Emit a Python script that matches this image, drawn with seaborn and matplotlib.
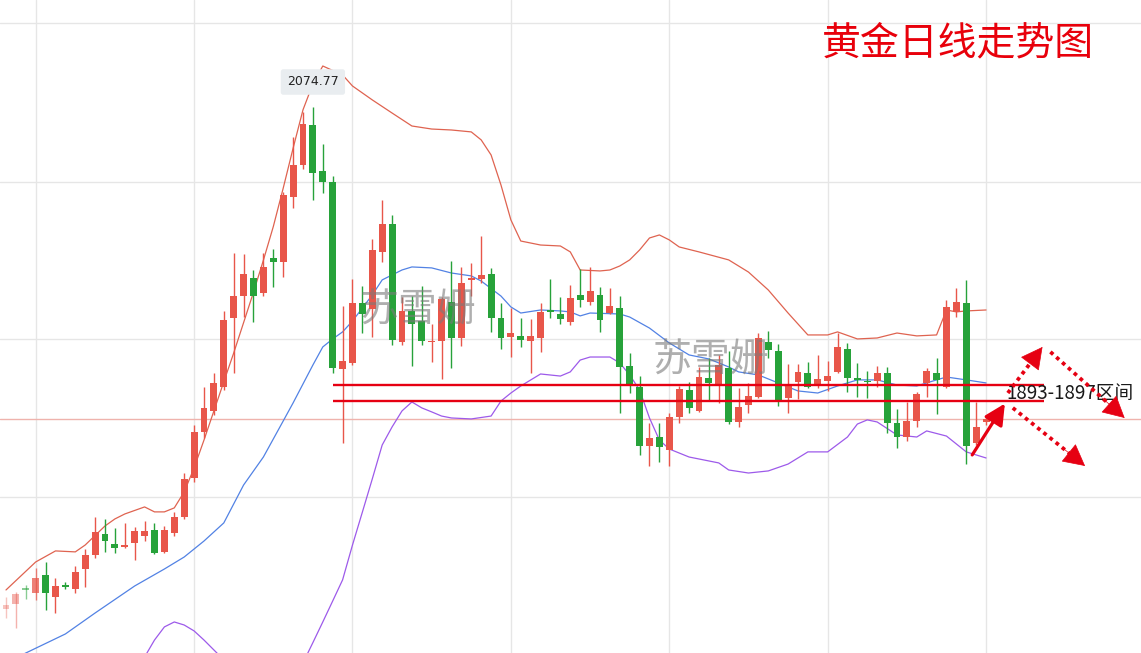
import numpy as np
import pandas as pd
import matplotlib
matplotlib.use("Agg")
import matplotlib.pyplot as plt
import seaborn as sns

# daily gold candles, red = up, green = down
opens = [1761.0, 1764.2, 1774.2, 1771.0, 1782.3, 1768.5, 1775.4, 1773.5, 1786.0, 1794.8,
         1807.9, 1801.7, 1799.8, 1802.3, 1806.7, 1810.4, 1796.7, 1808.5, 1818.5, 1842.9,
         1871.7, 1884.8, 1899.8, 1942.9, 1956.7, 1967.9, 1958.5, 1980.4, 1977.9, 2018.5,
         2038.5, 2063.5, 2034.8, 2027.9, 1911.0, 1914.8, 1952.3, 1948.5, 1984.2, 2001.7,
         1927.9, 1947.3, 1941.0, 1927.9, 1928.5, 1952.9, 1930.4, 1966.7, 1967.3, 1970.4,
         1942.9, 1931.0, 1931.7, 1928.5, 1930.4, 1947.3, 1945.4, 1940.4, 1957.3, 1952.9,
         1957.3, 1946.0, 1949.2, 1912.9, 1899.8, 1862.9, 1868.5, 1860.4, 1881.0, 1897.9,
         1884.8, 1905.4, 1901.0, 1911.7, 1877.9, 1888.5, 1893.5, 1927.9, 1922.3, 1892.9,
         1902.9, 1908.5, 1901.7, 1903.5, 1909.2, 1923.5, 1904.8, 1903.5, 1903.5, 1908.5,
         1877.3, 1868.5, 1878.5, 1902.3, 1908.5, 1899.8, 1946.7, 1952.3, 1864.8, 1877.9]
highs = [1768.5, 1771.6, 1776.0, 1786.7, 1790.4, 1780.4, 1777.9, 1787.9, 1798.5, 1818.5,
         1817.3, 1811.7, 1814.8, 1812.3, 1816.0, 1814.8, 1812.9, 1821.7, 1846.0, 1876.0,
         1899.8, 1908.5, 1947.3, 1983.5, 1982.9, 1972.9, 1983.5, 1986.0, 2021.7, 2056.0,
         2071.7, 2074.77, 2051.7, 2031.7, 1950.4, 1967.3, 1962.9, 1992.3, 2016.7, 2007.3,
         1956.0, 1956.7, 1962.9, 1939.2, 1956.0, 1978.5, 1974.8, 1977.3, 1994.2, 1974.2,
         1952.3, 1949.2, 1942.9, 1942.3, 1952.3, 1967.3, 1956.0, 1963.5, 1973.5, 1974.8,
         1962.3, 1961.7, 1956.7, 1921.0, 1906.7, 1877.3, 1877.3, 1883.5, 1900.4, 1902.9,
         1912.3, 1917.9, 1919.8, 1922.3, 1899.2, 1902.3, 1933.5, 1934.8, 1926.7, 1914.2,
         1914.2, 1915.4, 1919.8, 1916.0, 1933.5, 1927.3, 1914.8, 1909.8, 1912.9, 1912.3,
         1886.0, 1890.4, 1896.7, 1911.7, 1917.9, 1954.2, 1961.7, 1966.7, 1890.4, 1882.3]
lows = [1755.4, 1749.2, 1767.3, 1766.7, 1760.4, 1758.5, 1773.5, 1771.0, 1774.8, 1792.9,
        1796.7, 1796.0, 1799.2, 1791.7, 1803.5, 1795.5, 1796.2, 1806.7, 1817.3, 1840.4,
        1867.9, 1882.3, 1897.9, 1908.5, 1943.5, 1940.4, 1956.7, 1962.3, 1968.5, 2011.7,
        2036.0, 2016.7, 2021.0, 1908.5, 1864.8, 1913.5, 1933.5, 1931.0, 1977.9, 1926.0,
        1926.0, 1912.9, 1926.0, 1915.4, 1904.8, 1911.7, 1925.4, 1956.7, 1964.8, 1934.2,
        1923.5, 1918.5, 1924.8, 1908.5, 1921.7, 1942.9, 1939.2, 1938.5, 1949.8, 1951.0,
        1934.2, 1945.5, 1883.5, 1896.0, 1857.3, 1850.4, 1852.9, 1850.4, 1877.3, 1883.5,
        1884.2, 1891.7, 1889.8, 1876.7, 1874.8, 1883.5, 1893.0, 1917.9, 1887.9, 1883.5,
        1892.3, 1899.3, 1899.2, 1897.3, 1908.7, 1896.7, 1893.5, 1892.9, 1899.8, 1871.0,
        1861.7, 1866.0, 1874.8, 1893.5, 1882.9, 1899.3, 1943.5, 1851.7, 1863.5, 1876.0]
closes = [1763.5, 1770.4, 1772.9, 1780.4, 1771.0, 1775.4, 1774.8, 1784.2, 1794.8, 1809.2,
          1803.5, 1799.2, 1801.0, 1809.8, 1809.8, 1796.0, 1810.4, 1818.5, 1842.3, 1871.7,
          1886.7, 1902.3, 1941.7, 1956.7, 1970.4, 1956.7, 1974.8, 1977.9, 2019.8, 2038.5,
          2064.2, 2033.5, 2027.9, 1911.7, 1916.0, 1952.3, 1945.4, 1985.4, 2001.7, 1929.2,
          1947.3, 1939.2, 1928.5, 1928.5, 1954.8, 1930.4, 1964.8, 1967.9, 1969.8, 1942.9,
          1930.4, 1933.5, 1929.2, 1931.7, 1946.7, 1946.7, 1942.3, 1955.4, 1954.2, 1959.8,
          1941.7, 1950.4, 1912.3, 1901.7, 1862.9, 1867.9, 1862.3, 1881.0, 1898.5, 1886.7,
          1906.0, 1902.3, 1913.5, 1877.9, 1887.3, 1894.2, 1930.4, 1922.9, 1891.0, 1901.0,
          1909.2, 1899.8, 1904.8, 1906.7, 1924.8, 1905.4, 1904.2, 1902.9, 1908.5, 1877.3,
          1868.5, 1878.5, 1895.4, 1909.8, 1904.2, 1949.8, 1952.9, 1862.9, 1874.8, 1879.8]

# bollinger bands, read at a few candles
upper_idx = [0, 3, 5, 7, 8, 10, 11, 12, 14, 15, 16, 17, 18, 19, 20, 21, 22, 23, 24, 25,
             26, 27, 28, 29, 30, 31, 32, 34, 35, 37, 39, 41, 43, 45, 47, 48, 49, 50, 51, 52,
             54, 56, 57, 58, 60, 61, 62, 63, 64, 65, 66, 67, 68, 70, 73, 75, 77, 79, 81, 83,
             84, 86, 88, 90, 92, 94, 95, 96, 97, 99]
upper_band = [1772.9, 1790.4, 1797.3, 1796.7, 1801.0, 1812.9, 1817.3, 1820.4, 1824.8, 1821.7,
              1821.7, 1824.2, 1834.2, 1849.2, 1866.6, 1884.8, 1903.0, 1921.0, 1940.0, 1959.0,
              1979.0, 2000.0, 2024.0, 2049.0, 2073.0, 2089.2, 2100.4, 2094.8, 2087.9, 2079.2,
              2071.0, 2062.9, 2061.0, 2060.4, 2059.2, 2054.2, 2044.8, 2026.0, 2004.2, 1991.0,
              1988.5, 1987.9, 1984.2, 1972.9, 1972.3, 1972.9, 1975.4, 1979.2, 1985.4, 1992.9,
              1994.8, 1991.7, 1987.3, 1984.2, 1979.2, 1971.6, 1960.4, 1946.0, 1932.3, 1932.3,
              1934.2, 1929.8, 1930.4, 1933.5, 1931.7, 1932.3, 1947.9, 1946.7, 1947.3, 1947.9]
mid_idx = [0, 2, 6, 9, 13, 16, 18, 19, 20, 22, 24, 26, 28, 29, 31, 32, 33, 34, 35, 37,
           38, 40, 41, 43, 45, 47, 48, 50, 51, 52, 54, 56, 57, 58, 59, 62, 63, 65, 67, 69,
           71, 73, 74, 76, 78, 80, 82, 84, 86, 88, 90, 92, 94, 95, 97, 99]
mid_band = [1727.3, 1733.5, 1745.4, 1758.5, 1775.4, 1786.0, 1793.5, 1798.5, 1803.5, 1814.8,
            1838.5, 1856.0, 1878.5, 1889.8, 1913.5, 1924.8, 1929.8, 1934.2, 1941.0, 1957.3,
            1966.7, 1972.9, 1974.8, 1974.2, 1971.0, 1969.2, 1966.0, 1956.6, 1949.8, 1946.0,
            1947.9, 1947.3, 1946.7, 1944.2, 1946.0, 1945.4, 1943.5, 1936.6, 1927.3, 1919.8,
            1917.3, 1912.3, 1909.2, 1907.3, 1902.3, 1897.3, 1896.0, 1900.4, 1904.2, 1904.2,
            1901.0, 1900.4, 1904.2, 1906.0, 1904.2, 1902.3]
lower_idx = [13, 14, 15, 16, 17, 18, 19, 20, 21, 22, 24, 27, 29, 30, 31, 32, 33, 34, 35, 36,
             37, 38, 39, 40, 41, 42, 43, 44, 45, 47, 49, 50, 51, 52, 54, 56, 57, 58, 59, 61,
             62, 63, 64, 65, 66, 67, 69, 72, 73, 75, 77, 79, 80, 81, 83, 85, 86, 87, 88, 90,
             92, 93, 95, 97, 99]
lower_band = [1712.0, 1731.0, 1741.6, 1749.8, 1752.9, 1751.0, 1747.3, 1741.6, 1735.4, 1729.2,
              1718.0, 1712.0, 1716.6, 1727.3, 1740.0, 1752.9, 1766.0, 1779.2, 1801.0, 1821.6,
              1842.3, 1863.5, 1874.8, 1884.8, 1890.4, 1886.7, 1884.2, 1881.6, 1880.4, 1879.8,
              1881.6, 1891.0, 1896.0, 1900.4, 1907.9, 1906.6, 1909.2, 1916.6, 1918.5, 1918.5,
              1914.8, 1907.3, 1897.9, 1880.4, 1866.6, 1861.0, 1856.0, 1852.3, 1847.9, 1846.0,
              1847.3, 1851.6, 1855.4, 1859.2, 1859.2, 1868.5, 1876.6, 1879.2, 1877.9, 1869.8,
              1868.5, 1872.3, 1869.1, 1859.2, 1855.4]

last_price = 1879.8
zone_top = 1901.0
zone_bottom = 1891.0
peak_price = "2074.77"
title = "黄金日线走势图"
zone_label = "1893-1897区间"
watermark = "苏雪姗"

sns.set_theme(style="white")
plt.rcParams['font.family'] = ['Noto Sans CJK SC', 'DejaVu Sans']

RED = '#e8564a'
GREEN = '#27a23a'
ZONE = '#e60012'

fig = plt.figure(figsize=(11.41, 6.53), dpi=100)
ax = fig.add_axes([0, 0, 1, 1])

df = pd.DataFrame(dict(o=opens, h=highs, l=lows, c=closes))
df['i'] = np.arange(len(df))
df['up'] = df.c >= df.o
fade = {0: 0.35, 1: 0.45, 2: 0.55, 3: 0.75}

for r in df.itertuples():
    col = RED if r.up else GREEN
    a = fade.get(r.i, 1.0)
    ax.vlines(r.i, r.l, r.h, color=col, lw=1.0, alpha=a, zorder=3)
    lo, hi = min(r.o, r.c), max(r.o, r.c)
    ax.bar(r.i, max(hi - lo, 0.9), bottom=lo, width=0.7, color=col,
           alpha=a, linewidth=0, zorder=3)

sns.lineplot(x=upper_idx, y=upper_band, ax=ax, color='#df6350', lw=0.9, zorder=2)
sns.lineplot(x=mid_idx, y=mid_band, ax=ax, color='#5282e4', lw=0.9, zorder=2)
sns.lineplot(x=lower_idx, y=lower_band, ax=ax, color='#9d5aea', lw=0.9, zorder=2)

ax.axhline(last_price, color='#efb3ad', lw=1.0, zorder=1)
ax.hlines([zone_top, zone_bottom], 33, 104.9, color=ZONE, lw=1.7, zorder=4)

ax.text(101.1, 1896.0, zone_label, fontsize=13.5, color='#1a1a1a',
        ha='left', va='center', zorder=6)

# solid arrow off the low
ax.annotate('', xy=(100.9, 1889.4), xytext=(97.6, 1857.3),
            arrowprops=dict(arrowstyle='-|>,head_length=0.7,head_width=0.35',
                            color=ZONE, lw=2.3, mutation_scale=18,
                            shrinkA=0, shrinkB=0), zorder=6)
# dotted scenario arrows: dotted shaft + solid head
for (x0, y0), (x1, y1) in [((101.2, 1896.0), (104.7, 1924.8)),
                           ((105.5, 1921.7), (113.0, 1880.4)),
                           ((101.7, 1886.7), (109.0, 1850.4))]:
    ax.plot([x0, x0 + 0.85 * (x1 - x0)], [y0, y0 + 0.85 * (y1 - y0)],
            color=ZONE, lw=2.7, ls=(0, (1, 1.1)), zorder=6)
    ax.annotate('', xy=(x1, y1), xytext=(x0 + 0.7 * (x1 - x0), y0 + 0.7 * (y1 - y0)),
                arrowprops=dict(arrowstyle='-|>,head_length=0.8,head_width=0.42',
                                fc=ZONE, ec=ZONE, lw=0.5, mutation_scale=18,
                                shrinkA=0, shrinkB=0), zorder=6)

ax.text(41.6, 1947.3, watermark, fontsize=28, color='#7a7a7a', alpha=0.6,
        ha='center', va='center', zorder=7)
ax.text(71.2, 1916.0, watermark, fontsize=28, color='#7a7a7a', alpha=0.6,
        ha='center', va='center', zorder=7)

ax.text(96.2, 2114.2, title, fontsize=28, color='#e8000b', ha='center', va='center')

ax.text(31.0, 2090.4, peak_price, fontsize=9, family='DejaVu Sans', color='#222222',
        ha='center', va='center', zorder=8,
        bbox=dict(boxstyle='round,pad=0.5,rounding_size=0.2', fc='#e9edf0', ec='none'))

ax.set_xlim(-0.606, 114.65)
ax.set_ylim(1733.5, 2141.65)
ax.set_xticks([3, 19, 35, 51, 67, 83, 99])
ax.set_yticks([1831.0, 1929.8, 2027.9, 2127.3])
ax.grid(True, color='#e6e6e6', lw=1.0)
ax.set_axisbelow(True)
ax.tick_params(length=0, labelleft=False, labelbottom=False)
for s in ax.spines.values():
    s.set_visible(False)
ax.set_xlabel('')
ax.set_ylabel('')

fig.savefig('out.png', dpi=100)
